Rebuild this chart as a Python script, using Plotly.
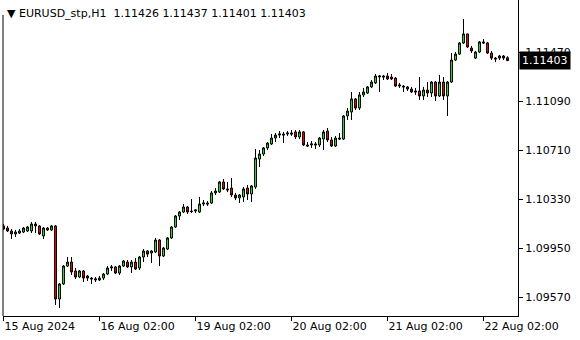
import plotly.graph_objects as go

opens = [
    1.10121, 1.10105, 1.10082, 1.10059, 1.10066, 1.10074, 1.10082, 1.10082, 1.10136, 1.10121,
    1.10043, 1.10090, 1.10090, 1.10121, 1.09555, 1.09671, 1.09810, 1.09841, 1.09772, 1.09725,
    1.09772, 1.09733, 1.09717, 1.09702, 1.09702, 1.09717, 1.09748, 1.09795, 1.09803, 1.09756,
    1.09810, 1.09841, 1.09803, 1.09841, 1.09795, 1.09880, 1.09927, 1.09911, 1.09919, 1.10012,
    1.09888, 1.09942, 1.10028, 1.10113, 1.10198, 1.10229, 1.10268, 1.10237, 1.10237, 1.10229,
    1.10291, 1.10299, 1.10299, 1.10377, 1.10384, 1.10462, 1.10408, 1.10415, 1.10361, 1.10338,
    1.10346, 1.10415, 1.10369, 1.10423, 1.10640, 1.10679, 1.10726, 1.10757, 1.10803, 1.10826,
    1.10834, 1.10834, 1.10842, 1.10850, 1.10811, 1.10850, 1.10749, 1.10749, 1.10757, 1.10749,
    1.10795, 1.10857, 1.10788, 1.10741, 1.10803, 1.10795, 1.10974, 1.11005, 1.11106, 1.11036,
    1.11137, 1.11152, 1.11199, 1.11230, 1.11276, 1.11284, 1.11284, 1.11276, 1.11268, 1.11206,
    1.11206, 1.11199, 1.11183, 1.11168, 1.11168, 1.11129, 1.11175, 1.11152, 1.11237, 1.11129,
    1.11237, 1.11129, 1.11237, 1.11408, 1.11454, 1.11540, 1.11610, 1.11501, 1.11423, 1.11470,
    1.11548, 1.11540, 1.11462, 1.11423, 1.11423, 1.11439, 1.11426,
]
highs = [
    1.10136, 1.10121, 1.10097, 1.10090, 1.10097, 1.10113, 1.10121, 1.10152, 1.10152, 1.10128,
    1.10113, 1.10113, 1.10128, 1.10128, 1.09679, 1.09818, 1.09880, 1.09880, 1.09795, 1.09779,
    1.09779, 1.09741, 1.09725, 1.09725, 1.09733, 1.09756, 1.09810, 1.09818, 1.09810, 1.09818,
    1.09857, 1.09857, 1.09857, 1.09872, 1.09888, 1.09942, 1.09934, 1.09934, 1.10028, 1.10020,
    1.09958, 1.10035, 1.10121, 1.10206, 1.10237, 1.10291, 1.10276, 1.10330, 1.10252, 1.10346,
    1.10322, 1.10314, 1.10392, 1.10415, 1.10470, 1.10485, 1.10462, 1.10493, 1.10377, 1.10369,
    1.10423, 1.10439, 1.10439, 1.10718, 1.10710, 1.10733, 1.10772, 1.10834, 1.10842, 1.10857,
    1.10850, 1.10857, 1.10865, 1.10865, 1.10865, 1.10857, 1.10772, 1.10780, 1.10772, 1.10811,
    1.10865, 1.10881, 1.10811, 1.10819, 1.10842, 1.10981, 1.11036, 1.11160, 1.11113, 1.11160,
    1.11191, 1.11206, 1.11253, 1.11299, 1.11292, 1.11292, 1.11307, 1.11299, 1.11276, 1.11230,
    1.11214, 1.11206, 1.11199, 1.11191, 1.11276, 1.11199, 1.11237, 1.11245, 1.11245, 1.11292,
    1.11276, 1.11245, 1.11462, 1.11470, 1.11548, 1.11726, 1.11612, 1.11517, 1.11478, 1.11555,
    1.11571, 1.11548, 1.11478, 1.11431, 1.11447, 1.11447, 1.11437,
]
lows = [
    1.10090, 1.10074, 1.10020, 1.10035, 1.10059, 1.10066, 1.10074, 1.10066, 1.10066, 1.10051,
    1.10020, 1.10082, 1.10082, 1.09508, 1.09485, 1.09663, 1.09803, 1.09741, 1.09710, 1.09717,
    1.09686, 1.09694, 1.09671, 1.09686, 1.09694, 1.09702, 1.09741, 1.09772, 1.09748, 1.09741,
    1.09803, 1.09795, 1.09756, 1.09779, 1.09779, 1.09841, 1.09880, 1.09834, 1.09911, 1.09810,
    1.09880, 1.09934, 1.10020, 1.10105, 1.10167, 1.10221, 1.10214, 1.10221, 1.10221, 1.10221,
    1.10276, 1.10276, 1.10291, 1.10361, 1.10377, 1.10400, 1.10384, 1.10346, 1.10322, 1.10299,
    1.10307, 1.10322, 1.10307, 1.10408, 1.10578, 1.10663, 1.10710, 1.10749, 1.10772, 1.10803,
    1.10764, 1.10819, 1.10819, 1.10795, 1.10795, 1.10741, 1.10733, 1.10726, 1.10718, 1.10733,
    1.10710, 1.10772, 1.10733, 1.10733, 1.10788, 1.10788, 1.10943, 1.10943, 1.11020, 1.11020,
    1.11121, 1.11144, 1.11191, 1.11222, 1.11160, 1.11253, 1.11253, 1.11253, 1.11199, 1.11191,
    1.11160, 1.11168, 1.11152, 1.11137, 1.11098, 1.11098, 1.11121, 1.11121, 1.11090, 1.11121,
    1.11098, 1.10974, 1.11230, 1.11400, 1.11447, 1.11532, 1.11501, 1.11462, 1.11416, 1.11462,
    1.11532, 1.11454, 1.11408, 1.11392, 1.11408, 1.11408, 1.11401,
]
closes = [
    1.10097, 1.10082, 1.10059, 1.10074, 1.10082, 1.10105, 1.10113, 1.10136, 1.10121, 1.10059,
    1.10105, 1.10105, 1.10121, 1.09555, 1.09671, 1.09810, 1.09841, 1.09764, 1.09725, 1.09772,
    1.09717, 1.09717, 1.09710, 1.09710, 1.09717, 1.09748, 1.09795, 1.09803, 1.09756, 1.09810,
    1.09849, 1.09803, 1.09841, 1.09787, 1.09880, 1.09927, 1.09903, 1.09927, 1.10012, 1.09888,
    1.09950, 1.10028, 1.10113, 1.10198, 1.10229, 1.10268, 1.10229, 1.10233, 1.10245, 1.10291,
    1.10299, 1.10291, 1.10377, 1.10392, 1.10462, 1.10408, 1.10400, 1.10361, 1.10338, 1.10361,
    1.10408, 1.10369, 1.10431, 1.10648, 1.10679, 1.10726, 1.10764, 1.10803, 1.10826, 1.10834,
    1.10826, 1.10842, 1.10834, 1.10811, 1.10850, 1.10749, 1.10741, 1.10757, 1.10749, 1.10803,
    1.10850, 1.10788, 1.10741, 1.10803, 1.10795, 1.10974, 1.11012, 1.11106, 1.11036, 1.11137,
    1.11160, 1.11199, 1.11237, 1.11284, 1.11284, 1.11276, 1.11261, 1.11261, 1.11206, 1.11214,
    1.11199, 1.11183, 1.11160, 1.11160, 1.11129, 1.11175, 1.11152, 1.11237, 1.11129, 1.11237,
    1.11129, 1.11237, 1.11408, 1.11454, 1.11540, 1.11610, 1.11509, 1.11478, 1.11470, 1.11548,
    1.11540, 1.11462, 1.11423, 1.11416, 1.11439, 1.11423, 1.11403,
]

time_tick_bars = [0, 24, 48, 72, 96, 120]
time_tick_labels = ["15 Aug 2024", "16 Aug 02:00", "19 Aug 02:00",
                    "20 Aug 02:00", "21 Aug 02:00", "22 Aug 02:00"]
price_ticks = [1.09570, 1.09950, 1.10330, 1.10710, 1.11090, 1.11470]
symbol = "EURUSD_stp,H1"

bars = list(range(len(opens)))
FONT = "DejaVu Sans"

fig = go.Figure(go.Candlestick(
    x=bars, open=opens, high=highs, low=lows, close=closes,
    increasing=dict(fillcolor="#00FF00", line=dict(color="black", width=1)),
    decreasing=dict(fillcolor="#FF0000", line=dict(color="black", width=1)),
    whiskerwidth=0, showlegend=False, hoverinfo="skip",
))

fig.update_layout(
    width=580, height=340,
    margin=dict(l=3, r=62, t=0, b=24),
    paper_bgcolor="white", plot_bgcolor="white",
    font=dict(family=FONT, size=11, color="black"),
    showlegend=False,
    xaxis=dict(
        range=[-0.125, 128.625], rangeslider=dict(visible=False),
        showgrid=False, zeroline=False,
        showline=True, linecolor="black", linewidth=1,
        ticks="outside", ticklen=4, tickcolor="black",
        tickvals=time_tick_bars, ticktext=time_tick_labels,
        ticklabelposition="outside right",
        tickfont=dict(family=FONT, size=11, color="black"),
    ),
    yaxis=dict(
        side="right", range=[1.094227, 1.118733],
        showgrid=False, zeroline=False,
        showline=True, linecolor="black", linewidth=1,
        ticks="outside", ticklen=4, tickcolor="black",
        tickvals=price_ticks, ticktext=[f"{v:.5f}" for v in price_ticks],
        tickfont=dict(family=FONT, size=11, color="black"),
    ),
    shapes=[
        dict(type="line", xref="paper", yref="paper", x0=0, x1=0, y0=0, y1=0.953,
             line=dict(color="black", width=1)),
    ],
    annotations=[
        dict(xref="paper", yref="paper", x=0.004, y=1, xanchor="left", yanchor="top",
             yshift=-5, showarrow=False,
             text="▼ " + symbol + "  " + " ".join(f"{v:.5f}" for v in
                   [opens[-1], highs[-1], lows[-1], closes[-1]]),
             font=dict(family=FONT, size=11, color="black")),
        dict(xref="paper", yref="y", x=1, y=closes[-1], xanchor="left", yanchor="middle",
             xshift=1, showarrow=False, text=f"{closes[-1]:.5f}",
             bgcolor="black", borderpad=2,
             font=dict(family=FONT, size=11, color="white")),
    ],
)

fig.write_html("out.html")
